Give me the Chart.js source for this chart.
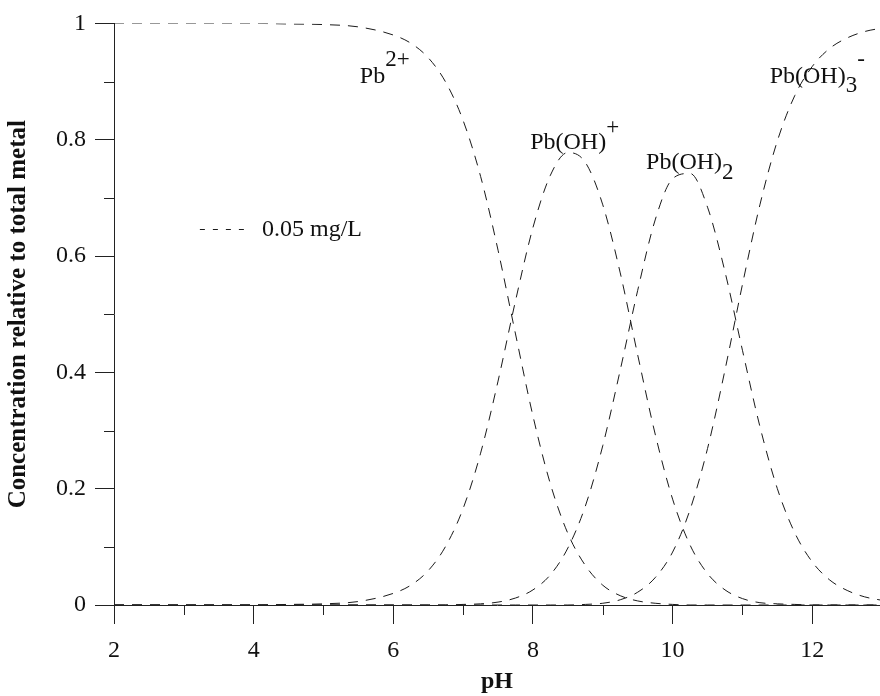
<!DOCTYPE html>
<html>
<head>
<meta charset="utf-8">
<script src="https://cdn.jsdelivr.net/npm/chart.js@4.4.1/dist/chart.umd.min.js"></script>
<style>
  html, body { margin: 0; padding: 0; background: #fff; }
</style>
</head>
<body>
<canvas id="chart" width="880" height="696"></canvas>
<script>
const LINECOLOR = "#1a1a1a";
const AXISCOLOR = "#222";
const TEXTCOLOR = "#111";
const FONT = "'Liberation Serif', 'Times New Roman', serif";

// pH values the curves were read at
const pH = [2, 3, 4, 4.5, 5, 5.5, 6, 6.25, 6.5, 6.75, 7, 7.25, 7.5, 7.75, 8, 8.25, 8.5, 8.75,
    9, 9.25, 9.5, 9.75, 10, 10.25, 10.5, 10.75, 11, 11.25, 11.5, 11.75, 12, 12.25, 12.5, 12.75, 13];
const pb2 = [1, 1, 1, 0.999, 0.998, 0.994, 0.980, 0.966, 0.941, 0.899, 0.833, 0.737, 0.610, 0.466, 0.325, 0.208, 0.123, 0.068,
    0.034, 0.016, 0.007, 0.003, 0.001, 0, 0, 0, 0, 0, 0, 0, 0, 0, 0, 0, 0];
const pbOH = [0, 0, 0, 0.001, 0.002, 0.006, 0.020, 0.034, 0.059, 0.101, 0.166, 0.261, 0.385, 0.523, 0.649, 0.739, 0.778, 0.761,
    0.688, 0.571, 0.430, 0.294, 0.182, 0.103, 0.054, 0.026, 0.011, 0.004, 0.002, 0.001, 0, 0, 0, 0, 0];
const pbOH2 = [0, 0, 0, 0, 0, 0, 0, 0, 0, 0, 0.001, 0.002, 0.005, 0.012, 0.026, 0.052, 0.098, 0.170,
    0.274, 0.404, 0.541, 0.662, 0.733, 0.742, 0.684, 0.573, 0.438, 0.307, 0.200, 0.124, 0.074, 0.043, 0.025, 0.014, 0.008];
const pbOH3 = [0, 0, 0, 0, 0, 0, 0, 0, 0, 0, 0, 0, 0, 0, 0, 0, 0, 0.001,
    0.003, 0.009, 0.022, 0.047, 0.091, 0.164, 0.269, 0.404, 0.551, 0.688, 0.798, 0.876, 0.926, 0.957, 0.975, 0.986, 0.992];

const xTicks = [2, 4, 6, 8, 10, 12];
const xMinor = [3, 5, 7, 9, 11];
const yTicks = [0, 0.2, 0.4, 0.6, 0.8, 1];
const yMinor = [0.1, 0.3, 0.5, 0.7, 0.9];

function series(values) {
    return {
        data: pH.map((x, i) => ({ x: x, y: values[i] })),
        borderColor: LINECOLOR,
        borderWidth: 1,
        borderDash: [10, 8],
        pointRadius: 0,
        cubicInterpolationMode: 'monotone',
        fill: false
    };
}

// species names drawn next to their curves
function drawLabel(ctx, px, py, parts) {
    let cx = px;
    parts.forEach(([t, size, dy]) => {
        ctx.font = size + "px " + FONT;
        ctx.fillText(t, cx, py + dy);
        cx += ctx.measureText(t).width;
    });
}

const extras = {
    id: 'extras',
    afterDraw(chart) {
        const ctx = chart.ctx;
        const xs = chart.scales.x;
        const ys = chart.scales.y;
        ctx.save();

        // minor ticks
        ctx.strokeStyle = AXISCOLOR;
        ctx.lineWidth = 1;
        ctx.beginPath();
        xMinor.forEach(v => {
            const px = Math.round(xs.getPixelForValue(v)) + 0.5;
            ctx.moveTo(px, xs.top);
            ctx.lineTo(px, xs.top + 10);
        });
        yMinor.forEach(v => {
            const py = Math.round(ys.getPixelForValue(v)) + 0.5;
            ctx.moveTo(ys.right, py);
            ctx.lineTo(ys.right - 10, py);
        });
        ctx.stroke();

        // legend
        const ly = Math.round(ys.getPixelForValue(0.647)) + 0.5;
        ctx.strokeStyle = LINECOLOR;
        ctx.setLineDash([5, 8]);
        ctx.beginPath();
        ctx.moveTo(xs.getPixelForValue(3.23), ly);
        ctx.lineTo(xs.getPixelForValue(3.93), ly);
        ctx.stroke();
        ctx.setLineDash([]);
        ctx.fillStyle = TEXTCOLOR;
        ctx.textBaseline = 'middle';
        ctx.font = "24px " + FONT;
        ctx.fillText("0.05 mg/L", xs.getPixelForValue(4.12), ly);

        ctx.textBaseline = 'alphabetic';
        drawLabel(ctx, xs.getPixelForValue(5.52), ys.getPixelForValue(0.897), [["Pb", 24, 0], ["2+", 23, -17]]);
        drawLabel(ctx, xs.getPixelForValue(7.96), ys.getPixelForValue(0.784), [["Pb(OH)", 24, 0], ["+", 23, -15]]);
        drawLabel(ctx, xs.getPixelForValue(9.62), ys.getPixelForValue(0.750), [["Pb(OH)", 24, 0], ["2", 23, 10]]);
        drawLabel(ctx, xs.getPixelForValue(11.39), ys.getPixelForValue(0.897), [["Pb(OH)", 24, 0], ["3", 23, 9], ["-", 23, -17]]);
        ctx.restore();
    }
};

const ctx = document.querySelector("#chart").getContext('2d');
const configuration = {
    type: 'line',
    data: {
        datasets: [series(pb2), series(pbOH), series(pbOH2), series(pbOH3)]
    },
    options: {
        responsive: false,
        animation: false,
        devicePixelRatio: 1,
        layout: {
            padding: { top: 22, right: 0, left: 0, bottom: 0 }
        },
        scales: {
            x: {
                type: 'linear',
                min: 2,
                max: 12.97,
                afterBuildTicks: (scale) => { scale.ticks = xTicks.map(v => ({ value: v })); },
                afterFit: (scale) => { scale.height = 91; },
                grid: {
                    drawOnChartArea: false,
                    tickLength: 19,
                    tickColor: AXISCOLOR
                },
                border: { display: true, color: AXISCOLOR, width: 1 },
                ticks: {
                    color: TEXTCOLOR,
                    padding: 12,
                    maxRotation: 0,
                    autoSkip: false,
                    font: { family: FONT, size: 24 }
                },
                title: {
                    display: true,
                    text: "pH",
                    color: TEXTCOLOR,
                    font: { family: FONT, size: 24, weight: "bold" },
                    padding: { top: 0, bottom: 0 }
                }
            },
            y: {
                min: 0,
                max: 1,
                afterBuildTicks: (scale) => { scale.ticks = yTicks.map(v => ({ value: v })); },
                afterFit: (scale) => { scale.width = 114; },
                grid: {
                    drawOnChartArea: false,
                    tickLength: 19,
                    tickColor: AXISCOLOR
                },
                border: { display: true, color: AXISCOLOR, width: 1 },
                ticks: {
                    color: TEXTCOLOR,
                    padding: 9,
                    autoSkip: false,
                    font: { family: FONT, size: 24 },
                    callback: (v) => String(Math.round(v * 10) / 10)
                },
                title: {
                    display: true,
                    text: "Concentration relative to total metal",
                    color: TEXTCOLOR,
                    font: { family: FONT, size: 25, weight: "bold" },
                    padding: { top: 4, bottom: 0 }
                }
            }
        },
        plugins: {
            legend: { display: false },
            tooltip: { enabled: false }
        }
    },
    plugins: [extras]
};
new Chart(ctx, configuration);
</script>
</body>
</html>
